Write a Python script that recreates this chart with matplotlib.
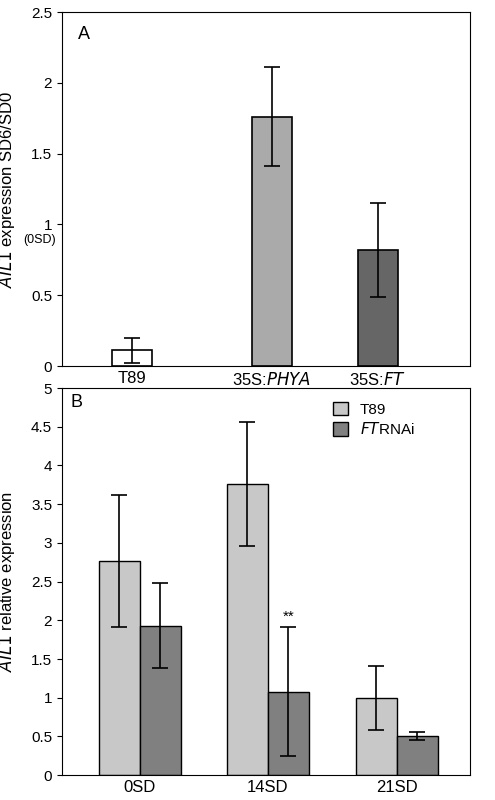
import matplotlib

matplotlib.use("Agg")

import matplotlib.pyplot as plt

# panel A
a_labels = ["T89", "35S:$\\it{PHYA}$", "35S:$\\it{FT}$"]
a_values = [0.11, 1.76, 0.82]
a_errors = [0.09, 0.35, 0.33]
a_colors = ["white", "#aaaaaa", "#666666"]

# panel B
b_groups = ["0SD", "14SD", "21SD"]
b_t89 = [2.77, 3.76, 1.0]
b_t89_err = [0.85, 0.80, 0.41]
b_rnai = [1.93, 1.08, 0.51]
b_rnai_err = [0.55, 0.83, 0.05]

plt.rcParams["font.family"] = ["Liberation Sans", "DejaVu Sans"]
plt.rcParams["font.size"] = 11

fig = plt.figure(figsize=(4.95, 8), dpi=100)

ax = fig.add_axes([0.125, 0.5425, 0.824, 0.4425])
a_pos = [132, 272, 378]
ax.bar(a_pos, a_values, width=40, color=a_colors, edgecolor="black", linewidth=1.2,
       yerr=a_errors, capsize=6, error_kw=dict(elinewidth=1.2, capthick=1.2))
ax.set_xlim(62, 470)
ax.set_ylim(0, 2.5)
ax.set_xticks(a_pos)
ax.set_xticklabels(a_labels, fontsize=12)
ax.set_yticks([0, 0.5, 1, 1.5, 2, 2.5])
ax.set_yticklabels(["0", "0.5", "1", "1.5", "2", "2.5"], fontsize=11)
ax.text(-0.015, 0.355, "(0SD)", transform=ax.transAxes, ha="right", va="center", fontsize=9)
ax.tick_params(axis="x", length=0)
ax.set_ylabel("$\\it{AIL1}$ expression SD6/SD0", fontsize=12, labelpad=10)
ax.text(0.04, 0.96, "A", transform=ax.transAxes, ha="left", va="top", fontsize=13)

bx = fig.add_axes([0.125, 0.031, 0.824, 0.484])
centers = [140, 268, 397]
w = 41
t_pos = [c - w / 2 for c in centers]
r_pos = [c + w / 2 for c in centers]
ek = dict(elinewidth=1.2, capthick=1.2)
bx.bar(t_pos, b_t89, width=w, color="#c8c8c8", edgecolor="black", linewidth=1,
       yerr=b_t89_err, capsize=6, error_kw=ek, label="T89")
bx.bar(r_pos, b_rnai, width=w, color="#808080", edgecolor="black", linewidth=1,
       yerr=b_rnai_err, capsize=6, error_kw=ek, label="$\\it{FT}$RNAi")
bx.text(r_pos[1], b_rnai[1] + b_rnai_err[1] + 0.05, "**", ha="center", va="bottom", fontsize=11)
bx.set_xlim(62, 470)
bx.set_ylim(0, 5)
bx.set_xticks(centers)
bx.set_xticklabels(b_groups, fontsize=12)
bx.set_yticks([0, 0.5, 1, 1.5, 2, 2.5, 3, 3.5, 4, 4.5, 5])
bx.set_yticklabels(["0", "0.5", "1", "1.5", "2", "2.5", "3", "3.5", "4", "4.5", "5"])
bx.tick_params(axis="x", length=0)
bx.set_ylabel("$\\it{AIL1}$ relative expression", fontsize=12, labelpad=10)
bx.text(0.02, 0.985, "B", transform=bx.transAxes, ha="left", va="top", fontsize=13)
bx.legend(loc="upper left", bbox_to_anchor=(0.63, 1.0), frameon=False, fontsize=11,
          handlelength=1.0, handleheight=1.0, labelspacing=0.3)

fig.savefig("out.png", dpi=100)
